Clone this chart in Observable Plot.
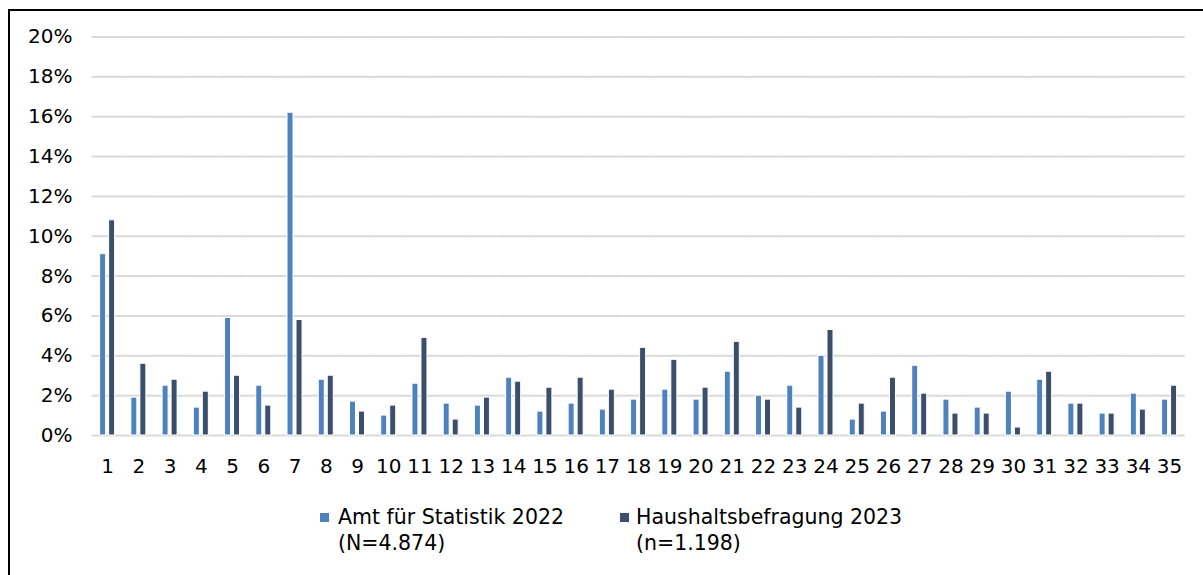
<!DOCTYPE html>
<html>
<head>
<meta charset="utf-8">
<script src="https://cdn.jsdelivr.net/npm/d3@7"></script>
<script src="https://cdn.jsdelivr.net/npm/@observablehq/plot@0.6"></script>
<style>
  html, body { margin: 0; padding: 0; background: #fff; overflow: hidden; width: 1203px; height: 575px; }
  #frame { position: absolute; left: 8px; top: 9px; width: 1400px; height: 800px; border: 2px solid #000; box-sizing: border-box; }
  #chart { position: absolute; left: 0; top: 0; }
  .legend { position: absolute; font-family: "DejaVu Sans", sans-serif; font-size: 20.5px; line-height: 26px; color: #000; }
  .legend .sw { position: absolute; width: 9px; height: 9px; }
  .legend .tx { position: absolute; white-space: nowrap; }
</style>
</head>
<body>
<div id="frame"></div>
<div id="chart"></div>
<div id="legend"></div>
<script>
const categories = ["1","2","3","4","5","6","7","8","9","10","11","12","13","14","15","16","17","18","19","20","21","22","23","24","25","26","27","28","29","30","31","32","33","34","35"];
const amtValues = [9.1,1.9,2.5,1.4,5.9,2.5,16.2,2.8,1.7,1.0,2.6,1.6,1.5,2.9,1.2,1.6,1.3,1.8,2.3,1.8,3.2,2.0,2.5,4.0,0.8,1.2,3.5,1.8,1.4,2.2,2.8,1.6,1.1,2.1,1.8];
const hhValues = [10.8,3.6,2.8,2.2,3.0,1.5,5.8,3.0,1.2,1.5,4.9,0.8,1.9,2.7,2.4,2.9,2.3,4.4,3.8,2.4,4.7,1.8,1.4,5.3,1.6,2.9,2.1,1.1,1.1,0.4,3.2,1.6,1.1,1.3,2.5];
const seriesKeys = ["amt", "hh"];
const seriesLabels = [["Amt für Statistik 2022", "(N=4.874)"], ["Haushaltsbefragung 2023", "(n=1.198)"]];
const seriesColors = ["#4f81bd", "#3b4e6b"];
const yTicks = [0, 0.02, 0.04, 0.06, 0.08, 0.10, 0.12, 0.14, 0.16, 0.18, 0.20];

const data = categories.flatMap((c, i) => [
  {cat: c, series: seriesKeys[0], value: amtValues[i] / 100},
  {cat: c, series: seriesKeys[1], value: hhValues[i] / 100}
]);

const chart = Plot.plot({
  width: 1203,
  height: 490,
  marginTop: 36.5,
  marginBottom: 55,
  marginLeft: 91.5,
  marginRight: 18.3,
  style: {fontFamily: "'DejaVu Sans', sans-serif", fontSize: "20px", color: "#000", background: "transparent", overflow: "visible"},
  fx: {domain: categories, padding: 0, round: false, label: null, axis: "bottom", tickSize: 0, tickPadding: 23},
  x: {domain: seriesKeys, paddingInner: 0.333, paddingOuter: 0.902, round: false, axis: null},
  y: {domain: [0, 0.2], ticks: yTicks, tickFormat: d3.format(".0%"), tickSize: 0, tickPadding: 19.5, label: null},
  color: {domain: seriesKeys, range: seriesColors},
  marks: [
    Plot.ruleY(yTicks, {stroke: "#d9d9d9", strokeWidth: 2}),
    Plot.barY(data, {fx: "cat", x: "series", y: "value", fill: "series", stroke: "white", strokeWidth: 1})
  ]
});
document.getElementById("chart").appendChild(chart);

const legendPos = [{sw: 320, tx: 338}, {sw: 620, tx: 636}];
const legend = document.getElementById("legend");
seriesKeys.forEach((k, i) => {
  const item = document.createElement("div");
  item.className = "legend";
  item.style.left = "0px";
  item.style.top = "0px";
  const sw = document.createElement("div");
  sw.className = "sw";
  sw.style.left = legendPos[i].sw + "px";
  sw.style.top = "513px";
  sw.style.background = seriesColors[i];
  const tx = document.createElement("div");
  tx.className = "tx";
  tx.style.left = legendPos[i].tx + "px";
  tx.style.top = "504px";
  tx.innerHTML = seriesLabels[i].join("<br>");
  item.appendChild(sw);
  item.appendChild(tx);
  legend.appendChild(item);
});
</script>
</body>
</html>
